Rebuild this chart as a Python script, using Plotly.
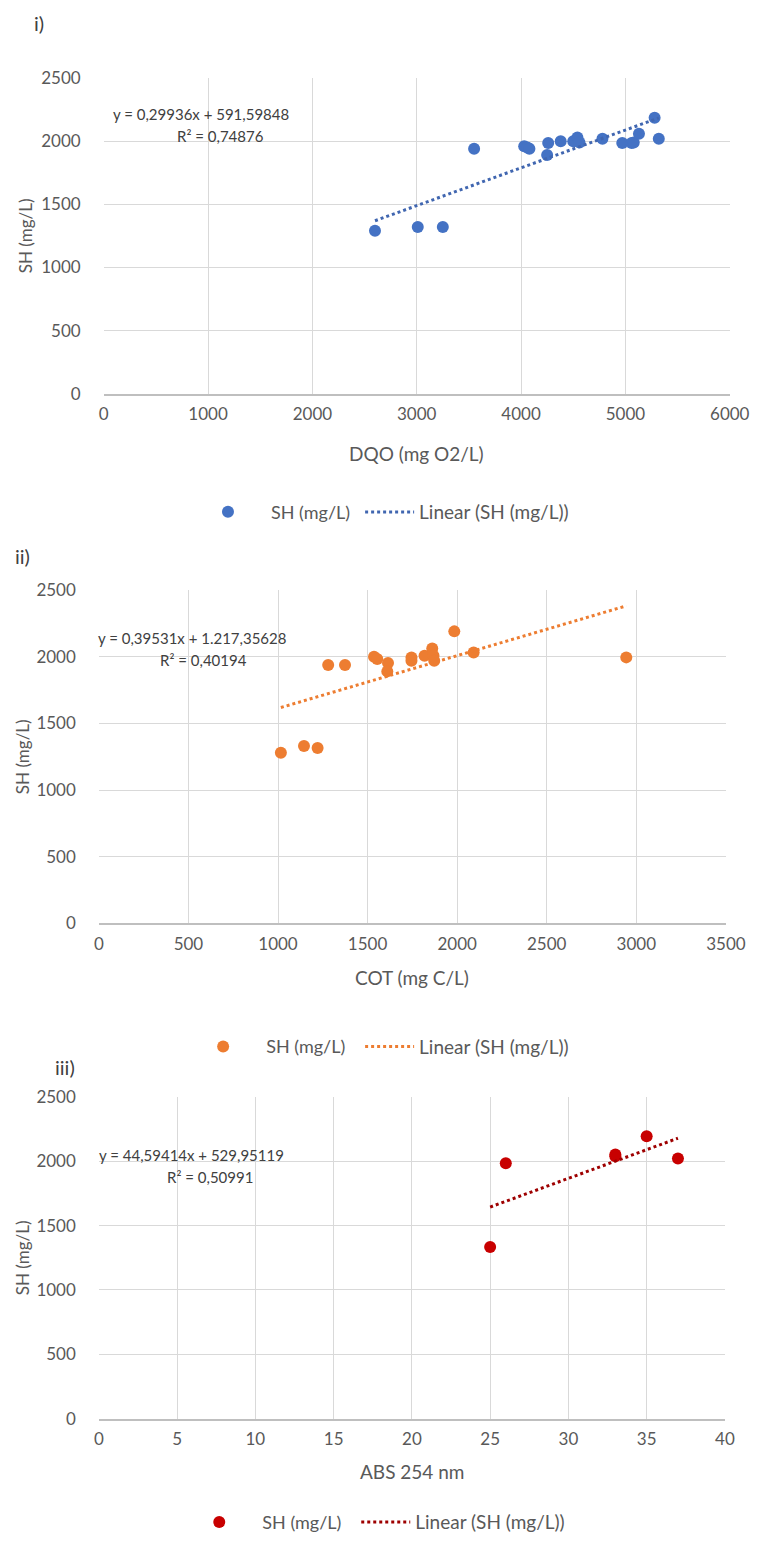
import plotly.graph_objects as go

# Panel i: DQO vs SH
dqo = [2600, 3010, 3250, 3550, 4030, 4060, 4080, 4250, 4260, 4380,
       4500, 4540, 4560, 4780, 4970, 5060, 5080, 5130, 5280, 5320]
sh_dqo = [1290, 1320, 1320, 1940, 1960, 1950, 1940, 1890, 1985, 2000,
          2000, 2030, 1990, 2020, 1985, 1985, 1990, 2060, 2185, 2020]
fit_dqo = (0.29936, 591.59848)

# Panel ii: COT vs SH
cot = [1016, 1145, 1221, 1280, 1374, 1536, 1554, 1614, 1610, 1745,
       1745, 1818, 1861, 1868, 1872, 1984, 2092, 2944]
sh_cot = [1280, 1330, 1315, 1938, 1938, 2000, 1983, 1953, 1890, 1995,
          1970, 2007, 2062, 2007, 1970, 2190, 2032, 1995]
fit_cot = (0.39531, 1217.35628)

# Panel iii: ABS 254 nm vs SH
abs254 = [25, 26, 33, 33, 35, 37]
sh_abs = [1335, 1985, 2054, 2040, 2195, 2022]
fit_abs = (44.59414, 529.95119)

panels = [
    dict(x=dqo, y=sh_dqo, fit=fit_dqo, color="#4472C4", line="#4066B0",
         xr=[0, 6000], dx=1000, xtitle="DQO (mg O2/L)", tag="i)",
         eq="y = 0,29936x + 591,59848", r2="R² = 0,74876"),
    dict(x=cot, y=sh_cot, fit=fit_cot, color="#ED7D31", line="#ED7D31",
         xr=[0, 3500], dx=500, xtitle="COT (mg C/L)", tag="ii)",
         eq="y = 0,39531x + 1.217,35628", r2="R² = 0,40194"),
    dict(x=abs254, y=sh_abs, fit=fit_abs, color="#C80000", line="#9E0000",
         xr=[0, 40], dx=5, xtitle="ABS 254 nm", tag="iii)",
         eq="y = 44,59414x + 529,95119", r2="R² = 0,50991"),
]

W, H = 772, 1547
# plot-area boxes in pixels: (left, right, top, bottom)
boxes = [(102, 749, 68, 388), (97, 745, 587, 925), (97, 744, 1101, 1427)]
legend_y = [508, 1050, 1532]
# left edges of the two legend entries (markers, trend line) per panel
legend_x = [(186, 367), (181, 367), (177, 363)]
eq_pos = [((203, 104), (223, 127)), ((193, 636), (205, 658)), ((193, 1160), (212, 1182))]
tag_pos = [(35, 12), (18, 553), (62, 1071)]
xtitle_y = [449, 980, 1481]
ytitle_x = [22, 18, 18]

FONT = "Lato, 'Open Sans', sans-serif"
GREY = "#595959"
DARK = "#404040"

fig = go.Figure()
layout = dict(width=W, height=H, margin=dict(l=0, r=0, t=0, b=0),
              paper_bgcolor="white", plot_bgcolor="white", showlegend=True,
              font=dict(family=FONT, color=GREY, size=14), annotations=[])

px = lambda v: v / W
py = lambda v: 1 - v / H


def note(text, x, y, size, color, angle=0):
    return dict(text=text, x=px(x), y=py(y), xref="paper", yref="paper",
                xanchor="center", yanchor="middle", showarrow=False,
                textangle=angle, font=dict(size=size, color=color))


def legend_box(x, y, itemwidth, size):
    return dict(orientation="h", x=px(x), xanchor="left", y=py(y),
                yanchor="middle", font=dict(size=size, color=GREY),
                bgcolor="rgba(0,0,0,0)", itemwidth=itemwidth,
                borderwidth=0, visible=True)


for i, p in enumerate(panels):
    n = "" if i == 0 else str(i + 1)
    leg_pts = "legend" if i == 0 else f"legend{2 * i + 1}"
    leg_fit = f"legend{2 * i + 2}"
    xa, ya = f"x{n}", f"y{n}"
    fig.add_trace(go.Scatter(
        x=p["x"], y=p["y"], mode="markers", name="SH (mg/L)",
        marker=dict(color=p["color"], size=12, line=dict(width=0)),
        xaxis=xa, yaxis=ya, legend=leg_pts, showlegend=True))
    a, b = p["fit"]
    x0, x1 = min(p["x"]), max(p["x"])
    fig.add_trace(go.Scatter(
        x=[x0, x1], y=[a * x0 + b, a * x1 + b], mode="lines",
        name="Linear (SH (mg/L))",
        line=dict(color=p["line"], width=3, dash="dot"),
        xaxis=xa, yaxis=ya, legend=leg_fit, showlegend=True))

    l, r, t, bt = boxes[i]
    layout[f"xaxis{n}"] = dict(
        domain=[px(l), px(r)], anchor=ya, range=p["xr"], dtick=p["dx"],
        tick0=0, showgrid=True, gridcolor="#D9D9D9", gridwidth=1,
        zeroline=False, showline=True, linecolor="#BFBFBF", linewidth=1.5,
        ticks="", tickfont=dict(size=17, color=GREY), tickformat="d",
        ticklabelstandoff=4, fixedrange=True)
    layout[f"yaxis{n}"] = dict(
        domain=[py(bt), py(t)], anchor=xa, range=[0, 2500], dtick=500,
        showgrid=True, gridcolor="#D9D9D9", gridwidth=1, zeroline=False,
        showline=False, ticks="", tickfont=dict(size=17, color=GREY),
        tickformat="d", ticklabelstandoff=22, fixedrange=True)

    lx_pts, lx_fit = legend_x[i]
    layout[leg_pts] = legend_box(lx_pts, legend_y[i], 76, 18)
    layout[leg_fit] = legend_box(lx_fit, legend_y[i], 49, 19)

    (ex, ey), (rx, ry) = eq_pos[i]
    layout["annotations"] += [
        note(p["eq"], ex, ey, 15, DARK),
        note(p["r2"], rx, ry, 15, DARK),
        note(p["tag"], tag_pos[i][0], tag_pos[i][1], 20, DARK),
        note(p["xtitle"], (l + r) / 2, xtitle_y[i], 19, GREY),
        note("SH (mg/L)", ytitle_x[i], (t + bt) / 2, 17, GREY, -90),
    ]

fig.update_layout(**layout)
fig.write_html("out.html")
